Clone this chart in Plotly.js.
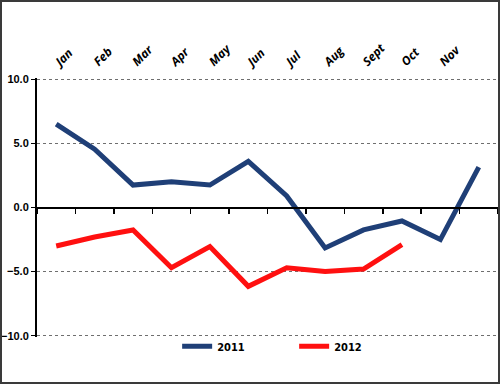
<!DOCTYPE html>
<html>
<head>
<meta charset="utf-8">
<script src="https://cdn.plot.ly/plotly-3.0.1.min.js"></script>
<style>
html,body{margin:0;padding:0;background:#fff;}
#chart{width:496px;height:380px;border:2px solid #3a3a3a;}
</style>
</head>
<body>
<div id="chart"></div>
<script>
var months = ['Jan','Feb','Mar','Apr','May','Jun','Jul','Aug','Sep','Oct','Nov','Dec'];
var monthLabels = ['Jan','Feb','Mar','Apr','May','Jun','Jul','Aug','Sept','Oct','Nov',''];
var values2011 = [6.5, 4.55, 1.75, 2.0, 1.75, 3.6, 0.9, -3.15, -1.75, -1.05, -2.5, 3.15];
var months2012 = ['Jan','Feb','Mar','Apr','May','Jun','Jul','Aug','Sep','Oct'];
var values2012 = [-3.0, -2.3, -1.75, -4.7, -3.05, -6.15, -4.7, -5.0, -4.8, -2.9];
var yTicks = [-10, -5, 0, 5, 10];

var traces = [
  {x: months, y: values2011, name: '2011', type: 'scatter', mode: 'lines',
   line: {color: '#1f3f77', width: 5}, hoverinfo: 'skip'},
  {x: months2012, y: values2012, name: '2012', type: 'scatter', mode: 'lines',
   line: {color: '#ff1010', width: 5}, hoverinfo: 'skip'},
  {x: months, y: months.map(function(){return null;}), xaxis: 'x2', type: 'scatter',
   mode: 'lines', showlegend: false, hoverinfo: 'skip'}
];

var layout = {
  width: 496, height: 380,
  margin: {l: 35, r: 0, t: 76, b: 45, autoexpand: false},
  paper_bgcolor: '#ffffff', plot_bgcolor: '#ffffff',
  showlegend: true,
  legend: {orientation: 'h', x: 0.304, xanchor: 'left', y: 0.02, yanchor: 'top',
           bgcolor: 'rgba(0,0,0,0)',
           entrywidth: 72, entrywidthmode: 'pixels', itemwidth: 30, tracegroupgap: 0,
           font: {family: 'DejaVu Sans Condensed, DejaVu Sans', size: 11, color: '#000', weight: 'bold'}},
  xaxis: {type: 'category', categoryorder: 'array', categoryarray: months,
          range: [-0.5, 11.5], side: 'top', tickmode: 'array', tickvals: months, ticktext: monthLabels,
          tickangle: -45, ticks: '', showline: false, showgrid: false, zeroline: false,
          ticklabelstandoff: 6,
          tickfont: {family: 'Open Sans, Liberation Sans', size: 12, color: '#000', weight: 'bold', style: 'italic'}},
  xaxis2: {type: 'category', categoryorder: 'array', categoryarray: months,
           range: [-0.5, 11.5], overlaying: 'x', anchor: 'free', position: 0.5, side: 'bottom',
           tickson: 'boundaries', ticks: 'outside', ticklen: 5, tickwidth: 1.5, tickcolor: '#000',
           showticklabels: false, showline: true, linecolor: '#000', linewidth: 2,
           showgrid: false, zeroline: false},
  yaxis: {range: [-10.1, 10.1], tickmode: 'array', tickvals: yTicks, tickformat: '.1f',
          showline: true, linecolor: '#000', linewidth: 2, ticks: 'outside', ticklen: 4,
          tickwidth: 1.5, tickcolor: '#000',
          showgrid: true, gridcolor: '#6f6f6f', griddash: '3px,3px', gridwidth: 1,
          zeroline: false,
          tickfont: {family: 'Liberation Sans, Arial', size: 11, color: '#000', weight: 'bold'}}
};

Plotly.newPlot('chart', traces, layout, {displayModeBar: false, staticPlot: true});
</script>
</body>
</html>
